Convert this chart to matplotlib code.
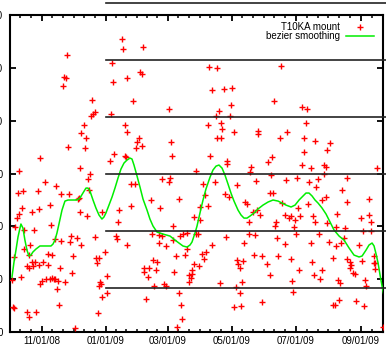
import datetime as dt
import numpy as np
import matplotlib
matplotlib.use("Agg")
import matplotlib.pyplot as plt
import matplotlib.dates as mdates
from matplotlib.lines import Line2D

plt.rcParams['font.family'] = ['Liberation Sans', 'DejaVu Sans']

# ---------------- data (days since 2008-10-01, value) ----------------
base_date = dt.date(2008, 10, 1)

mount_days = [
    55, 52, 54, 51, 79, 82, 80, 78, 108, 109, 98, 99, 112, 97,
    128, 125, 127, 190, 198, 118, 193, 205, 212, 152, 211, 200, 197, 210,
    259, 252, 279, 284,
    71, 69, 73, 56, 72, 30, 100, 96, 110, 111, 110, 112, 10, 68, 77, 75, 34, 9, 13, 28,
    45, 50, 57, 76, 67, 66, 12, 10, 8, 22, 29, 39, 68, 74, 89, 105, 6, 14, 24, 40, 104, 44,
    59, 65, 82, 102, 103, 112, 50, 58, 69, 20, 14, 19, 37, 41, 61, 86, 91, 84, 83, 5,
    17, 19, 22, 25, 23, 29, 32, 37, 49, 60, 11, 3, 30, 31, 35, 39, 41, 43, 44, 47,
    53, 46, 93, 87, 88, 86, 93, 89, 5, 4, 48, 17, 19, 26, 63, 85,
    189, 202, 203, 198, 202, 214, 124, 122, 127, 121, 154, 155, 191, 208, 208, 178, 230, 229,
    116, 120, 146, 153, 152, 185, 196, 217, 135, 162, 187, 206, 209, 225, 227, 116, 144, 182,
    189, 232, 176, 182, 228, 156, 236,
    136, 143, 146, 163, 166, 169, 178, 180, 207, 228, 234, 143, 149, 156, 169, 193, 224, 159,
    168, 184, 188, 186, 233, 217, 223, 137, 141, 129, 133, 129, 140, 176, 181, 132, 157, 174,
    174, 171, 173, 171, 218, 220, 138, 148, 149, 201, 222, 216, 220, 130, 162, 164, 214, 221,
    165, 160,
    283, 237, 237, 265, 258, 281, 291, 306, 303, 281, 250, 247, 279, 287, 300, 302, 300, 350,
    235, 249, 264, 274, 286, 294, 292, 322, 317, 248, 251, 302, 298, 322, 343, 260, 285, 275,
    239, 263, 268, 267, 277, 272, 289, 312, 343, 335, 291, 254, 253, 345, 271, 303, 311, 320,
    273, 337, 345, 255, 319, 295, 263, 287, 305, 311, 316, 333, 241, 256, 268, 308, 322, 325,
    336, 347, 347, 348, 246, 288, 290, 298, 326, 325, 348, 248, 276, 327, 329, 269, 296, 313,
    315, 339, 340, 270, 241, 314, 308, 310, 330, 338, 356,
]
mount_vals = [
    262, 241, 240, 233, 220, 208, 206, 204, 277, 268, 255, 237, 240, 206,
    270, 246, 244, 251, 250, 219, 229, 230, 231, 211, 215, 209, 204, 204,
    252, 219, 213, 211,
    196, 188, 184, 175, 174, 165, 168, 162, 167, 166, 196, 189, 152, 155, 150, 145, 142, 132, 133, 133,
    138, 131, 131, 134, 127, 126, 117, 112, 108, 114, 116, 120, 114, 110, 114, 115, 99, 97, 97, 101, 104, 88,
    91, 89, 90, 91, 88, 82, 86, 85, 82, 82, 79, 73, 74, 73, 72, 70, 76, 65, 70, 71,
    62, 61, 66, 66, 62, 63, 66, 63, 61, 56, 52, 49, 45, 48, 50, 50, 51, 50, 50, 48,
    47, 41, 53, 47, 45, 44, 37, 33, 23, 24, 26, 19, 14, 19, 4, 18,
    196, 198, 192, 184, 184, 189, 184, 180, 176, 174, 180, 167, 167, 162, 159, 152, 156, 151,
    140, 140, 145, 146, 142, 140, 142, 139, 125, 126, 130, 131, 128, 123, 121, 119, 117, 118,
    119, 114, 109, 106, 104, 100, 115,
    93, 92, 91, 91, 93, 94, 93, 93, 90, 93, 92, 84, 81, 87, 79, 82, 84, 72,
    73, 74, 76, 69, 73, 68, 67, 68, 66, 61, 61, 57, 59, 64, 62, 52, 57, 59,
    55, 54, 51, 47, 64, 61, 44, 45, 44, 46, 47, 43, 37, 31, 37, 26, 24, 25,
    12, 5,
    198, 190, 187, 189, 184, 184, 181, 179, 172, 170, 166, 161, 158, 155, 158, 156, 150, 155,
    143, 149, 144, 146, 142, 145, 137, 146, 134, 132, 132, 128, 125, 123, 126, 122, 121, 117,
    111, 111, 110, 108, 110, 106, 110, 112, 111, 108, 104, 104, 100, 104, 99, 103, 99, 98,
    93, 96, 96, 89, 89, 93, 83, 84, 85, 81, 84, 82, 72, 72, 69, 70, 69, 66,
    67, 72, 65, 65, 64, 66, 54, 59, 63, 61, 60, 54, 59, 56, 55, 48, 50, 49,
    46, 49, 44, 38, 28, 30, 26, 26, 29, 25, 5,
]

curve_days = [2.9, 4.8, 6.7, 8.6, 10.5, 11.4, 13.3, 15.2, 17.1, 19.0, 20.9, 22.8, 25.7, 29.5,
              33.3, 37.1, 40.0, 41.9, 43.8, 45.7, 47.6, 50.5, 53.3, 56.2, 60.0, 64.7, 67.6,
              70.4, 73.3, 75.2, 77.1, 80.0, 82.8, 85.7, 88.5, 90.4, 92.3, 95.2, 98.1, 100.9,
              103.8, 106.6, 109.5, 112.3, 115.2, 117.1, 119.0, 121.9, 124.7, 127.6, 131.4,
              134.2, 137.1, 140.9, 146.6, 153.3, 158.0, 161.8, 165.6, 169.5, 172.3, 174.2,
              177.1, 179.0, 181.8, 184.7, 187.5, 191.4, 194.2, 197.1, 199.9, 202.8, 205.6,
              208.5, 211.3, 214.2, 218.0, 220.9, 223.7, 226.6, 229.4, 233.2, 237.0, 241.8,
              246.6, 251.3, 256.1, 259.9, 263.7, 268.5, 272.3, 276.1, 279.9, 282.7, 285.6,
              288.5, 291.3, 294.2, 298.0, 301.8, 305.6, 309.4, 314.2, 318.9, 323.7, 328.4,
              333.2, 336.1, 339.9, 342.7, 345.6, 347.5, 349.4, 351.3, 353.2, 355.1, 357.0]
curve_vals = [52.0, 66.2, 77.6, 89.9, 98.4, 102.2, 98.4, 87.0, 77.6, 71.9, 72.8, 75.7, 78.5, 81.4,
              81.4, 81.4, 81.4, 83.2, 87.0, 93.7, 102.2, 115.4, 123.9, 124.9, 124.9, 124.9, 126.8,
              131.5, 136.2, 136.2, 133.4, 124.9, 117.3, 110.7, 106.9, 108.8, 112.6, 120.1, 127.7, 136.2,
              145.7, 154.2, 159.9, 162.7, 164.6, 163.7, 158.0, 147.6, 137.2, 125.8, 115.4,
              106.9, 100.3, 94.6, 92.7, 90.8, 87.0, 84.2, 81.4, 80.4, 82.3, 85.1,
              93.7, 100.3, 112.6, 124.9, 135.3, 146.6, 153.3, 157.0, 158.0, 155.1, 148.5,
              140.0, 131.5, 123.9, 115.4, 110.7, 107.8, 107.8, 109.7, 112.6, 116.4, 120.1,
              123.0, 124.9, 123.9, 122.0, 120.1, 118.3, 120.1, 124.9, 128.7, 131.5, 131.5,
              128.7, 124.9, 122.0, 117.3, 111.6, 104.1, 96.5, 90.8, 87.0, 79.5, 72.8,
              71.0, 71.9, 77.6, 82.3, 84.2, 81.4, 73.8, 65.3, 53.9, 43.5, 34.1]

x_range_days = (1.0, 356.0)
y_range = (0, 300)
y_ticks = [0, 50, 100, 150, 200, 250, 300]
major_dates = [dt.date(2008, 11, 1), dt.date(2009, 1, 1), dt.date(2009, 3, 1),
               dt.date(2009, 5, 1), dt.date(2009, 7, 1), dt.date(2009, 9, 1)]

# ---------------- figure ----------------
W, H = 386, 347
fig = plt.figure(figsize=(W / 100, H / 100), dpi=100)
ax = fig.add_axes([10 / W, 15 / H, 373 / W, 317 / H])

b = mdates.date2num(base_date)
mx = b + np.asarray(mount_days, float)
cx = b + np.asarray(curve_days, float)

ax.plot(mx, mount_vals, linestyle='none', marker='+', color='#ff0000',
        markersize=4.8, markeredgewidth=1.0, label='T10KA mount', zorder=3)
ax.plot(cx, curve_vals, color='#00ee00', linewidth=1.1, label='bezier smoothing', zorder=4)

ax.set_xlim(b + x_range_days[0], b + x_range_days[1])
ax.set_ylim(*y_range)

majors = [mdates.date2num(d) for d in major_dates]
ax.set_xticks(majors)
ax.set_xticklabels([d.strftime('%m/%d/%y') for d in major_dates])
minors = []
step0 = (majors[1] - majors[0]) / 6
t = majors[0] - step0
while t > b + x_range_days[0]:
    minors.append(t)
    t -= step0
for a, c in zip(majors[:-1], majors[1:]):
    minors += list(np.linspace(a, c, 7)[1:-1])
stepN = (majors[-1] - majors[-2]) / 6
t = majors[-1] + stepN
while t < b + x_range_days[1]:
    minors.append(t)
    t += stepN
ax.set_xticks(minors, minor=True)
ax.set_yticks(y_ticks)

for s in ax.spines.values():
    s.set_linewidth(1.5)
ax.tick_params(axis='both', which='major', direction='in', length=4, width=1.3,
               labelsize=7, top=True, right=True)
ax.tick_params(axis='x', which='minor', direction='in', length=2.2, width=1.1,
               top=True, bottom=True)
ax.tick_params(axis='x', which='major', pad=3)
ax.tick_params(axis='y', which='major', pad=5)

leg = ax.legend(loc='upper right', bbox_to_anchor=(0.976, 0.978), markerfirst=False,
                frameon=False, fontsize=7, handlelength=2.9, handletextpad=0.6,
                borderpad=0, borderaxespad=0, labelspacing=-0.05, numpoints=1)

# overlay horizontal rules (page artefacts over the image)
for yp in [3, 60, 117, 174, 231, 288]:
    fig.add_artist(Line2D([106 / W, 1.0], [1 - yp / H, 1 - yp / H],
                          transform=fig.transFigure, color='#222222', linewidth=1.2, zorder=10))

fig.savefig('out.png', dpi=100)
